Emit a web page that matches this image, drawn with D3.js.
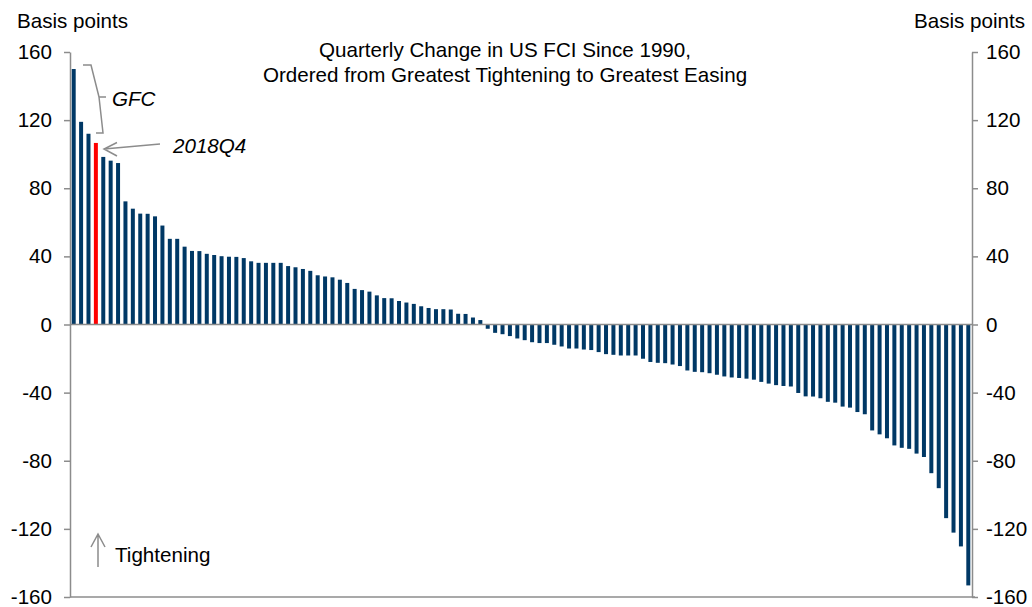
<!DOCTYPE html>
<html>
<head>
<meta charset="utf-8">
<script src="https://cdn.jsdelivr.net/npm/d3@7/dist/d3.min.js"></script>
<style>
  html, body { margin: 0; padding: 0; background: #fff; }
  svg text { font-family: "Liberation Sans", Arial, sans-serif; }
</style>
</head>
<body>
<svg id="chart" width="1032" height="607"></svg>
<script>
// Quarterly change in US FCI since 1990, ranked from greatest tightening to greatest easing (bp)
const positiveChanges = [150, 119, 112, 106.6, 98.4, 96.2, 94.8, 72.3, 68, 65.1,
  65, 63.5, 58.1, 50.3, 50.3, 45.7, 43.2, 43.1, 41.5, 40.8,
  40.1, 39.8, 39.7, 39, 37.1, 36.2, 36.2, 36.2, 36.2, 34.3,
  33.6, 32.6, 31.5, 28.9, 28.2, 27.7, 26.3, 24.4, 20.9, 20.2,
  19.3, 17.1, 15.5, 15.4, 13.8, 12.9, 12.1, 10.7, 9.7, 9.0,
  9.0, 8.8, 6.3, 6.2, 4.1, 2.6];
const negativeChanges = [-2.5, -4.9, -5.7, -6.8, -8.2, -9.2, -10.4, -10.9, -10.9, -11.9,
  -12.9, -14.1, -14.1, -14.7, -15.0, -16.2, -17.4, -17.8, -18.2, -18.2,
  -18.2, -20.1, -22.0, -22.5, -22.7, -23.5, -24.4, -27.0, -27.8, -28.0,
  -28.6, -29.5, -30.5, -31.1, -31.4, -31.8, -32.4, -33.7, -34.7, -35.6,
  -36.1, -36.4, -40.2, -42.2, -42.3, -43.3, -45.4, -45.9, -48.2, -48.8,
  -51.4, -52.7, -62.2, -64.5, -66.8, -71.0, -72.4, -73.0, -75.8, -77.8,
  -87.3, -96.1, -113.7, -122.2, -130.3, -153.2];
const fciChanges = positiveChanges.concat(negativeChanges);
const ranks = fciChanges.map((d, i) => i + 1);
const highlightRank = 4;          // 2018Q4
const yTicks = [-160, -120, -80, -40, 0, 40, 80, 120, 160];
const titleLines = ["Quarterly Change in US FCI Since 1990,", "Ordered from Greatest Tightening to Greatest Easing"];

const svg = d3.select("#chart");
const plotLeft = 70, plotRight = 972, plotTop = 52, plotBottom = 597;
const axisColor = "#8c8c8c";
const fs = 20.6;

const x = d3.scaleBand().domain(ranks).range([plotLeft, plotRight]).paddingInner(0.46).paddingOuter(0.23);
const y = d3.scaleLinear().domain([-160, 160]).range([plotBottom, plotTop]);

// bars
svg.append("g").selectAll("rect").data(fciChanges).join("rect")
  .attr("x", (d, i) => x(ranks[i]))
  .attr("width", x.bandwidth())
  .attr("y", d => Math.min(y(d), y(0)))
  .attr("height", d => Math.abs(y(d) - y(0)))
  .attr("fill", (d, i) => ranks[i] === highlightRank ? "#ff0000" : "#003865");

// zero line
svg.append("line").attr("x1", plotLeft).attr("x2", plotRight).attr("y1", y(0)).attr("y2", y(0))
  .attr("stroke", axisColor).attr("stroke-width", 1.5);
// bottom line
svg.append("line").attr("x1", plotLeft).attr("x2", plotRight + 3).attr("y1", plotBottom).attr("y2", plotBottom)
  .attr("stroke", axisColor).attr("stroke-width", 1.5);

const fmt = d => String(d);
const leftAxis = d3.axisLeft(y).tickValues(yTicks).tickFormat(fmt).tickSize(6).tickSizeOuter(0).tickPadding(12);
const rightAxis = d3.axisRight(y).tickValues(yTicks).tickFormat(fmt).tickSize(6).tickSizeOuter(0).tickPadding(8);
function styleAxis(g) {
  g.selectAll("path, line").attr("stroke", axisColor).attr("stroke-width", 1.5);
  g.selectAll("text").attr("fill", "#000").style("font-size", fs + "px")
    .style("font-family", "'Liberation Sans', Arial, sans-serif");
}
svg.append("g").attr("transform", `translate(${plotLeft},0)`).call(leftAxis).call(styleAxis);
svg.append("g").attr("transform", `translate(${plotRight},0)`).call(rightAxis).call(styleAxis);

// unit labels
svg.append("text").attr("x", 17).attr("y", 28).attr("font-size", fs).text("Basis points");
svg.append("text").attr("x", 1025).attr("y", 28).attr("font-size", fs).attr("text-anchor", "end").text("Basis points");

// title
svg.append("text").attr("x", 505).attr("y", 57).attr("font-size", fs).attr("text-anchor", "middle").text(titleLines[0]);
svg.append("text").attr("x", 505).attr("y", 82).attr("font-size", fs).attr("text-anchor", "middle").text(titleLines[1]);

const annColor = "#8c8c8c";
// GFC bracket
svg.append("path").attr("d", "M83,65 L91,65 L99,97 L106,97 M99,97 L103,133 L96,133")
  .attr("fill", "none").attr("stroke", annColor).attr("stroke-width", 1.5);
svg.append("text").attr("x", 112).attr("y", 106).attr("font-size", fs).attr("font-style", "italic").text("GFC");

// 2018Q4 arrow
svg.append("path").attr("d", "M160,144 L104,149 M117,142.5 L104,149 L117,156")
  .attr("fill", "none").attr("stroke", annColor).attr("stroke-width", 1.5);
svg.append("text").attr("x", 173).attr("y", 153).attr("font-size", fs).attr("font-style", "italic").text("2018Q4");

// Tightening arrow
svg.append("path").attr("d", "M98,567 L98,534 M91,547 L98,534 L105,547")
  .attr("fill", "none").attr("stroke", annColor).attr("stroke-width", 1.5);
svg.append("text").attr("x", 115).attr("y", 562).attr("font-size", fs).text("Tightening");
</script>
</body>
</html>
